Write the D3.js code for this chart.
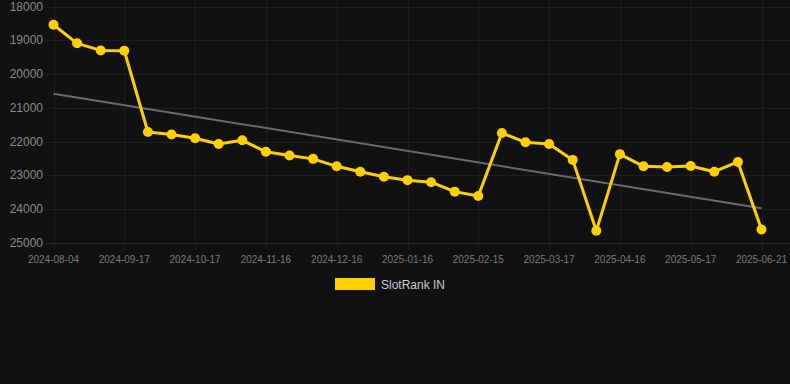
<!DOCTYPE html>
<html><head><meta charset="utf-8">
<script src="https://cdn.jsdelivr.net/npm/d3@7"></script>
<style>html,body{margin:0;padding:0;background:#111111;}svg{display:block;}</style>
</head><body>
<svg id="chart" width="790" height="384"></svg>
<script>
const dates = ["2024-08-04","2024-08-19","2024-09-03","2024-09-17","2024-09-27","2024-10-07","2024-10-17","2024-10-27","2024-11-06","2024-11-16","2024-11-26","2024-12-06","2024-12-16","2024-12-26","2025-01-06","2025-01-16","2025-01-26","2025-02-05","2025-02-15","2025-02-25","2025-03-07","2025-03-17","2025-03-27","2025-04-06","2025-04-16","2025-04-26","2025-05-06","2025-05-17","2025-05-27","2025-06-10","2025-06-21"];
const rankValues = [18540,19090,19300,19310,21715,21790,21900,22070,21960,22300,22410,22510,22730,22890,23040,23140,23200,23480,23610,21745,22020,22070,22540,24640,22370,22730,22750,22720,22890,22600,24600];
const trendValues = [20580,23970];
const yTicks = [18000,19000,20000,21000,22000,23000,24000,25000];
const xTickLabels = ["2024-08-04","2024-09-17","2024-10-17","2024-11-16","2024-12-16","2025-01-16","2025-02-15","2025-03-17","2025-04-16","2025-05-17","2025-06-21"];
const seriesName = "SlotRank IN";

const svg = d3.select("#chart");
const x = d3.scalePoint().domain(dates).range([53.5, 761.5]);
const y = d3.scaleLinear().domain([18000,25000]).range([6.5,243]);

// grid
const g = svg.append("g");
g.selectAll(".hg").data(yTicks).join("line")
  .attr("x1",46).attr("x2",790).attr("y1",d=>Math.round(y(d))+0.5).attr("y2",d=>Math.round(y(d))+0.5)
  .attr("stroke",d=>d===25000?"#2a2a2a":"#1e1e1e").attr("stroke-width",1);
g.selectAll(".vg").data(xTickLabels).join("line")
  .attr("x1",d=>Math.round(x(d))+0.5).attr("x2",d=>Math.round(x(d))+0.5).attr("y1",0).attr("y2",250)
  .attr("stroke","#1e1e1e").attr("stroke-width",1);

// y labels
svg.append("g").selectAll("text").data(yTicks).join("text")
  .attr("x",43).attr("y",d=>y(d)+4).attr("text-anchor","end")
  .attr("font-family","Liberation Sans, Arial, sans-serif").attr("font-size",12)
  .attr("fill","#8a8a8a").text(d=>d);
// x labels
svg.append("g").selectAll("text").data(xTickLabels).join("text")
  .attr("x",d=>x(d)).attr("y",263).attr("text-anchor","middle")
  .attr("font-family","Liberation Sans, Arial, sans-serif").attr("font-size",10)
  .attr("fill","#7a7a7a").text(d=>d);

// trend
svg.append("line")
  .attr("x1",x(dates[0])).attr("y1",y(trendValues[0]))
  .attr("x2",x(dates[dates.length-1])).attr("y2",y(trendValues[1]))
  .attr("stroke","#6a6a6a").attr("stroke-width",2);

// series line
const data = dates.map((d,i)=>({d,v:rankValues[i]}));
svg.append("path").datum(data)
  .attr("d",d3.line().x(p=>x(p.d)).y(p=>y(p.v)))
  .attr("fill","none").attr("stroke","#FFD000").attr("stroke-width",3).attr("stroke-linejoin","round");
svg.append("g").selectAll("circle").data(data).join("circle")
  .attr("cx",p=>x(p.d)).attr("cy",p=>y(p.v)).attr("r",5).attr("fill","#FFD000");

// legend
svg.append("rect").attr("x",335).attr("y",278).attr("width",40).attr("height",12).attr("fill","#FFD000");
svg.append("text").attr("x",381).attr("y",289).attr("font-family","Liberation Sans, Arial, sans-serif")
  .attr("font-size",12).attr("fill","#cccccc").text(seriesName);
</script>
</body></html>
